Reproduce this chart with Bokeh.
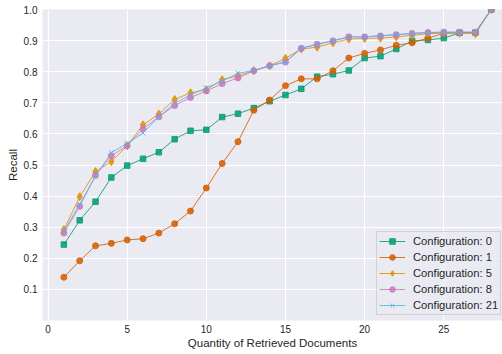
from bokeh.plotting import figure
from bokeh.models import Range1d, FixedTicker, PrintfTickFormatter
from bokeh.embed import file_html
from bokeh.resources import INLINE

docs = list(range(1, 29))

conf0 = [0.244, 0.322, 0.382, 0.460, 0.498, 0.520, 0.541, 0.583, 0.610, 0.613,
         0.654, 0.665, 0.683, 0.705, 0.725, 0.745, 0.784, 0.792, 0.804, 0.844,
         0.850, 0.873, 0.899, 0.902, 0.908, 0.925, 0.926, 1.0]
conf1 = [0.139, 0.192, 0.240, 0.248, 0.259, 0.263, 0.281, 0.311, 0.352, 0.426,
         0.505, 0.575, 0.676, 0.709, 0.755, 0.777, 0.777, 0.803, 0.844, 0.859,
         0.870, 0.885, 0.893, 0.908, 0.923, 0.926, 0.926, 1.0]
conf5 = [0.292, 0.398, 0.479, 0.511, 0.562, 0.629, 0.664, 0.711, 0.732, 0.742,
         0.774, 0.787, 0.803, 0.819, 0.843, 0.873, 0.879, 0.893, 0.905, 0.907,
         0.908, 0.912, 0.917, 0.922, 0.924, 0.924, 0.922, 1.0]
conf8 = [0.281, 0.367, 0.467, 0.530, 0.562, 0.616, 0.655, 0.691, 0.717, 0.738,
         0.762, 0.780, 0.803, 0.819, 0.831, 0.875, 0.888, 0.899, 0.912, 0.912,
         0.915, 0.919, 0.923, 0.926, 0.927, 0.927, 0.927, 1.0]
conf21 = [0.287, 0.374, 0.464, 0.540, 0.569, 0.603, 0.655, 0.698, 0.725, 0.748,
          0.770, 0.795, 0.804, 0.819, 0.831, 0.876, 0.888, 0.900, 0.912, 0.912,
          0.916, 0.919, 0.923, 0.926, 0.927, 0.927, 0.927, 1.0]

labels = ["Configuration: 0", "Configuration: 1", "Configuration: 5",
          "Configuration: 8", "Configuration: 21"]
series = [conf0, conf1, conf5, conf8, conf21]
colors = ["#029E73", "#D55E00", "#DE8F05", "#CC78BC", "#56B4E9"]
markers = ["square", "circle", "diamond", "circle", "x"]
sizes = [5.5, 6, 8, 6, 7]

x_ticks = [0, 5, 10, 15, 20, 25]
y_ticks = [0.1, 0.2, 0.3, 0.4, 0.5, 0.6, 0.7, 0.8, 0.9, 1.0]

FONT = "Liberation Sans"
TXT = "#262626"

p = figure(width=502, height=354, output_backend="svg", toolbar_location=None,
           x_range=Range1d(-0.35, 28.71), y_range=Range1d(0, 1.0),
           min_border_left=42, min_border_right=0, min_border_top=9,
           min_border_bottom=34)
p.background_fill_color = "#EAEAF2"
p.border_fill_color = "white"
p.outline_line_color = None

for g in (p.xgrid, p.ygrid):
    g.grid_line_color = "white"
    g.grid_line_width = 1

p.xaxis.ticker = FixedTicker(ticks=x_ticks)
p.yaxis.ticker = FixedTicker(ticks=y_ticks)
p.yaxis.formatter = PrintfTickFormatter(format="%.1f")

for ax in (p.xaxis, p.yaxis):
    ax.axis_line_color = None
    ax.major_tick_line_color = None
    ax.minor_tick_line_color = None
    ax.major_tick_out = 0
    ax.major_tick_in = 0
    ax.minor_tick_out = 0
    ax.minor_tick_in = 0
    ax.major_label_text_font = FONT
    ax.major_label_text_font_size = "10px"
    ax.major_label_text_color = TXT
    ax.axis_label_text_font = FONT
    ax.axis_label_text_font_size = "11.5px"
    ax.axis_label_text_font_style = "normal"
    ax.axis_label_text_color = TXT

p.xaxis.axis_label = "Quantity of Retrieved Documents"
p.yaxis.axis_label = "Recall"
p.xaxis.major_label_standoff = 4
p.xaxis.axis_label_standoff = 1
p.yaxis.major_label_standoff = 5
p.yaxis.axis_label_standoff = 2

for vals, lab, col, mk, sz in zip(series, labels, colors, markers, sizes):
    p.line(docs, vals, line_color=col, line_width=1, line_alpha=0.85, legend_label=lab)
    if mk == "x":
        p.scatter(docs, vals, marker=mk, size=sz, line_color=col, line_width=1,
                  line_alpha=0.85, legend_label=lab)
    else:
        p.scatter(docs, vals, marker=mk, size=sz, fill_color=col, line_color=col,
                  fill_alpha=0.85, line_alpha=0.85, legend_label=lab)

lg = p.legend[0]
lg.location = (334, 5)
lg.margin = 0
lg.padding = 2
lg.spacing = 2
lg.label_height = 14
lg.glyph_height = 14
lg.glyph_width = 26
lg.label_standoff = 8
lg.label_text_font = FONT
lg.label_text_font_size = "11.2px"
lg.label_text_color = TXT
lg.background_fill_color = "#EAEAF2"
lg.background_fill_alpha = 0.8
lg.border_line_color = "#cccccc"
lg.border_line_alpha = 0.8

open("out.html", "w").write(file_html(p, INLINE))
